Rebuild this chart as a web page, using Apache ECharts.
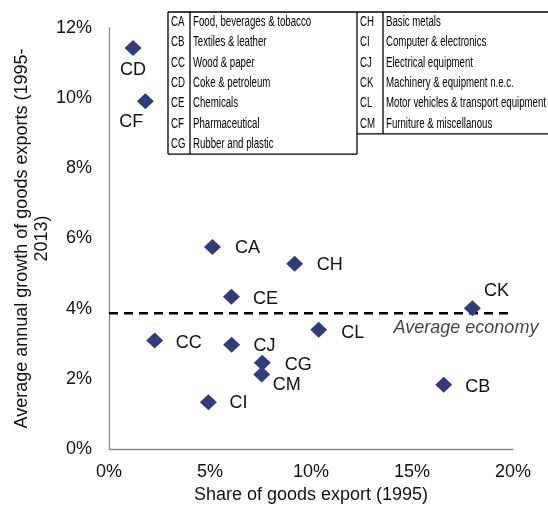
<!DOCTYPE html>
<html>
<head>
<meta charset="utf-8">
<script src="https://cdn.jsdelivr.net/npm/echarts@6/dist/echarts.min.js"></script>
<style>
  html, body { margin: 0; padding: 0; background: #fff; }
  #chart { width: 548px; height: 506px; }
</style>
</head>
<body>
<div id="chart"></div>
<script>
// ---- Data ----
const codes = ['CA','CB','CC','CD','CE','CF','CG','CH','CI','CJ','CK','CL','CM'];
const sectorNames = [
  'Food, beverages & tobacco',
  'Textiles & leather',
  'Wood & paper',
  'Coke & petroleum',
  'Chemicals',
  'Pharmaceutical',
  'Rubber and plastic',
  'Basic metals',
  'Computer & electronics',
  'Electrical equipment',
  'Machinery & equipment n.e.c.',
  'Motor vehicles & transport equipment',
  'Furniture & miscellanous'
];
// Share of goods export (1995), %
const exportShare1995 = [5.12, 16.57, 2.26, 1.19, 6.06, 1.80, 7.59, 9.19, 4.92, 6.07, 17.99, 10.38, 7.56];
// Average annual growth of goods exports (1995-2013), %
const exportGrowth = [5.76, 1.83, 3.09, 11.43, 4.34, 9.91, 2.46, 5.28, 1.33, 2.97, 4.01, 3.40, 2.12];
const averageEconomyGrowth = 3.87;
const averageLineX = [0, 20];
const averageLabel = 'Average economy';
const xAxisTitle = 'Share of goods export (1995)';
const yAxisTitle = 'Average annual growth of goods exports (1995-\n2013)';

// ---- Styles (label placement per point) ----
const labelOffsets = {
  CA: [35, 1], CB: [34, 2], CC: [34, 2], CD: [0, 22], CE: [34, 2], CF: [-14, 21],
  CG: [36, 2], CH: [35, 1], CI: [30, 1], CJ: [33, 1], CK: [24, -17], CL: [34, 3], CM: [25, 10]
};

const FONT = "'Liberation Sans', Arial, sans-serif";
const MARKER = '#313d7b';
const TEXT = '#111';

const points = codes.map((c, i) => ({
  name: c,
  value: [exportShare1995[i], exportGrowth[i]],
  label: { offset: labelOffsets[c] }
}));

// ---- Legend table (graphic) ----
const tbl = { left: 168, codeW: 22, nameW: 167, codeW2: 26, right: 600, top: 12, rowH: 20.3 };
const leftCount = 7;
const rightCount = codes.length - leftCount;
const x1 = tbl.left + tbl.codeW;
const x2 = x1 + tbl.nameW;
const x3 = x2 + tbl.codeW2;
const botL = tbl.top + leftCount * tbl.rowH;
const botR = tbl.top + rightCount * tbl.rowH;
const lineStyle = { stroke: '#000', lineWidth: 1.3 };
const g = [];
function ln(xa, ya, xb, yb) {
  g.push({ type: 'line', shape: { x1: xa, y1: ya, x2: xb, y2: yb }, style: lineStyle, silent: true });
}
ln(tbl.left, tbl.top, tbl.right, tbl.top);
ln(tbl.left, tbl.top, tbl.left, botL);
ln(x1, tbl.top, x1, botL);
ln(x2, tbl.top, x2, botL);
ln(x3, tbl.top, x3, botR);
ln(tbl.left, botL, x2, botL);
ln(x2, botR, tbl.right, botR);
function txt(s, x, y) {
  g.push({
    type: 'text', x: x, y: y, scaleX: 0.69, silent: true,
    style: { text: s, fill: '#000', font: '14px ' + FONT, textVerticalAlign: 'middle', textAlign: 'left' }
  });
}
codes.forEach((c, i) => {
  const left = i < leftCount;
  const row = left ? i : i - leftCount;
  const cy = tbl.top + (row + 0.5) * tbl.rowH;
  txt(c, (left ? tbl.left : x2) + 3, cy);
  txt(sectorNames[i], (left ? x1 : x3) + 3, cy);
});

const chart = echarts.init(document.getElementById('chart'), null, { renderer: 'canvas' });
chart.setOption({
  animation: false,
  backgroundColor: '#fff',
  textStyle: { fontFamily: FONT },
  grid: { left: 109, right: 35, top: 28, bottom: 57, containLabel: false, outerBoundsMode: 'none' },
  xAxis: {
    type: 'value', min: 0, max: 20, interval: 5,
    name: xAxisTitle, nameLocation: 'middle', nameGap: 37, nameMoveOverlap: false,
    nameTextStyle: { fontSize: 18, color: TEXT, fontFamily: FONT },
    axisLine: { show: true, lineStyle: { color: '#8c8c8c', width: 1.3 } },
    axisTick: { show: false },
    splitLine: { show: false },
    axisLabel: { formatter: '{value}%', fontSize: 18, color: TEXT, margin: 14, fontFamily: FONT }
  },
  yAxis: {
    type: 'value', min: 0, max: 12, interval: 2,
    name: yAxisTitle, nameLocation: 'middle', nameGap: 57, nameMoveOverlap: false,
    nameTextStyle: { fontSize: 18, lineHeight: 20, color: TEXT, fontFamily: FONT, align: 'center' },
    axisLine: { show: true, lineStyle: { color: '#8c8c8c', width: 1.3 } },
    axisTick: { show: false },
    splitLine: { show: false },
    axisLabel: { formatter: '{value}%', fontSize: 18, color: TEXT, margin: 17, fontFamily: FONT }
  },
  graphic: g,
  series: [
    {
      type: 'line', name: 'avg',
      data: averageLineX.map(x => [x, averageEconomyGrowth]),
      symbol: 'none', silent: true,
      lineStyle: { color: '#000', width: 2.6, type: [9, 6] },
      z: 1
    },
    {
      type: 'scatter', name: 'avgLabel',
      data: [[averageLineX[1], averageEconomyGrowth]],
      symbolSize: 0.1, itemStyle: { color: 'rgba(0,0,0,0)' }, silent: true,
      label: {
        show: true, formatter: averageLabel, position: 'inside', offset: [-47, 15],
        fontSize: 18, fontStyle: 'italic', color: TEXT, fontFamily: FONT
      },
      z: 2
    },
    {
      type: 'scatter', name: 'sectors',
      data: points,
      symbol: 'diamond', symbolSize: [17, 16],
      itemStyle: { color: MARKER, opacity: 1 },
      label: {
        show: true, position: 'inside', formatter: '{b}',
        fontSize: 18, color: TEXT, fontFamily: FONT
      },
      z: 3
    }
  ]
});
</script>
</body>
</html>
